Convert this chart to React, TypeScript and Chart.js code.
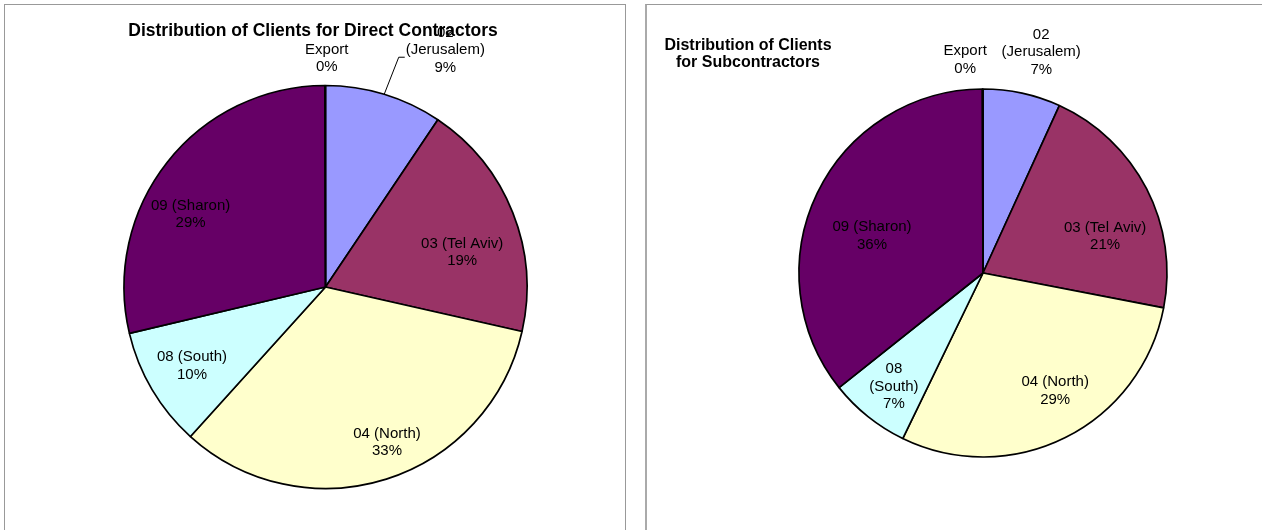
import React, { useEffect, useRef } from "react";
import { Chart, registerables } from "chart.js";

Chart.register(...registerables);

// ---- data ----
const regions = ["02 (Jerusalem)", "03 (Tel Aviv)", "04 (North)", "08 (South)", "09 (Sharon)", "Export"];
const directValues = [9.4, 19.1, 33.1, 9.6, 28.6, 0.05];
const subValues = [6.8, 21.2, 29.1, 7.1, 35.6, 0.05];
const sliceColors = ["#9999FF", "#993366", "#FFFFCC", "#CCFFFF", "#660066", "#FF8080"];

// label text lines (name part), percent appended from data
const directLabelNames = [["02", "(Jerusalem)"], ["03 (Tel Aviv)"], ["04 (North)"], ["08 (South)"], ["09 (Sharon)"], ["Export"]];
const subLabelNames = [["02", "(Jerusalem)"], ["03 (Tel Aviv)"], ["04 (North)"], ["08", "(South)"], ["09 (Sharon)"], ["Export"]];

const directTitle = ["Distribution of Clients for Direct Contractors"];
const subTitle = ["Distribution of Clients", "for Subcontractors"];

// label placement: radial fraction of radius and angular nudge (deg) from slice mid-angle
const directLabelPlace = [
  { f: 1.317, nudge: 9.9, leader: true },
  { f: 0.7, nudge: 7.4 },
  { f: 0.83, nudge: -4 },
  { f: 0.77, nudge: 0 },
  { f: 0.76, nudge: -10 },
  { f: 1.134, nudge: 0.4 },
];
const subLabelPlace = [
  { f: 1.242, nudge: 2.5 },
  { f: 0.693, nudge: 10.5 },
  { f: 0.751, nudge: -4.9 },
  { f: 0.785, nudge: -0.6 },
  { f: 0.636, nudge: -7.2 },
  { f: 1.162, nudge: -4.7 },
];

const FONT = "'Liberation Sans', Arial, sans-serif";

function makeLabelPlugin(names: string[][], place: any[], title: string[], titlePos: { x: number; y: number; size: number; lh: number }) {
  return {
    id: "pieLabels",
    afterDatasetsDraw(chart: any) {
      const ctx = chart.ctx;
      const meta = chart.getDatasetMeta(0);
      const data = chart.data.datasets[0].data as number[];
      const total = data.reduce((a, b) => a + b, 0);
      ctx.save();
      ctx.fillStyle = "#000";
      ctx.font = `15px ${FONT}`;
      ctx.textAlign = "center";
      ctx.textBaseline = "middle";
      const lh = 17.5;
      meta.data.forEach((arc: any, i: number) => {
        const p = arc.getProps(["x", "y", "startAngle", "endAngle", "outerRadius"], true);
        const mid = (p.startAngle + p.endAngle) / 2;
        const a = mid + (place[i].nudge * Math.PI) / 180;
        const cx = p.x + Math.cos(a) * p.outerRadius * place[i].f;
        const cy = p.y + Math.sin(a) * p.outerRadius * place[i].f;
        const pct = Math.round((data[i] / total) * 100) + "%";
        const lines = [...names[i], pct];
        const y0 = cy - ((lines.length - 1) * lh) / 2;
        let maxW = 0;
        lines.forEach((t, k) => {
          ctx.fillText(t, cx, y0 + k * lh);
          maxW = Math.max(maxW, ctx.measureText(t).width);
        });
        if (place[i].leader) {
          const ex = p.x + Math.cos(mid) * p.outerRadius;
          const ey = p.y + Math.sin(mid) * p.outerRadius;
          const left = cx - maxW / 2;
          const ly = y0 + lh + 7;
          ctx.strokeStyle = "#000";
          ctx.lineWidth = 1;
          ctx.beginPath();
          ctx.moveTo(ex, ey);
          ctx.lineTo(left - 7, ly);
          ctx.lineTo(left - 1, ly);
          ctx.stroke();
        }
      });
      ctx.font = `bold ${titlePos.size}px ${FONT}`;
      title.forEach((t, k) => ctx.fillText(t, titlePos.x, titlePos.y + k * titlePos.lh));
      ctx.restore();
    },
  };
}

function PieChart(props: {
  values: number[];
  names: string[][];
  place: any[];
  title: string[];
  titlePos: { x: number; y: number; size: number; lh: number };
  left: number;
  width: number;
  padding: any;
  radius: number;
}) {
  const ref = useRef<HTMLCanvasElement>(null);
  useEffect(() => {
    const chart = new Chart(ref.current as HTMLCanvasElement, {
      type: "pie",
      data: {
        labels: regions,
        datasets: [
          {
            data: props.values,
            backgroundColor: sliceColors,
            borderColor: "#000",
            borderWidth: 1.7,
          },
        ],
      },
      options: {
        responsive: false,
        animation: false,
        radius: props.radius,
        layout: { padding: props.padding },
        plugins: { legend: { display: false }, tooltip: { enabled: false }, title: { display: false } },
      } as any,
      plugins: [makeLabelPlugin(props.names, props.place, props.title, props.titlePos)],
    });
    return () => chart.destroy();
  }, []);
  return (
    <canvas
      ref={ref}
      width={props.width}
      height={530}
      style={{ position: "absolute", left: props.left, top: 0, width: props.width, height: 530, display: "block" }}
    />
  );
}

export default function App() {
  return (
    <div style={{ position: "absolute", left: 0, top: 0, width: 1262, height: 530, overflow: "hidden", background: "#fff" }}>
      <div style={{ position: "absolute", left: 4, top: 4, width: 622, height: 600, border: "1px solid #999", boxSizing: "border-box" }} />
      <div style={{ position: "absolute", left: 645, top: 4, width: 700, height: 600, borderLeft: "2px solid #aaa", borderTop: "1px solid #999", boxSizing: "border-box" }} />
      <PieChart
        values={directValues}
        names={directLabelNames}
        place={directLabelPlace}
        title={directTitle}
        titlePos={{ x: 313, y: 31, size: 17.5, lh: 17 }}
        left={0}
        width={651}
        padding={{ top: 44, bottom: 0, left: 0, right: 0 }}
        radius={201.5}
      />
      <PieChart
        values={subValues}
        names={subLabelNames}
        place={subLabelPlace}
        title={subTitle}
        titlePos={{ x: 108, y: 46, size: 16, lh: 17 }}
        left={640}
        width={622}
        padding={{ top: 16, bottom: 0, left: 64, right: 0 }}
        radius={184}
      />
    </div>
  );
}
